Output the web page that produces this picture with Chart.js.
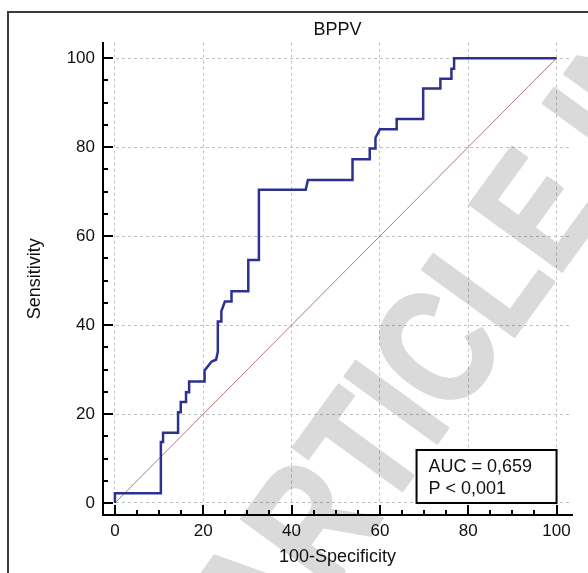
<!DOCTYPE html>
<html>
<head>
<meta charset="utf-8">
<script src="https://cdn.jsdelivr.net/npm/chart.js@4.4.1/dist/chart.umd.min.js"></script>
<style>
    body { margin: 0; background: #fff; width: 588px; height: 573px; overflow: hidden; position: relative; }
    #frame { position: absolute; left: 7px; top: 11px; width: 700px; height: 700px; border: 2px solid #3a3a3a; }
    #roc { position: absolute; left: 0; top: 0; }
</style>
</head>
<body>
<div id="frame"></div>
<canvas id="roc" width="588" height="573"></canvas>
<script>
// ROC curve vertices (100-Specificity, Sensitivity)
const specificity100 = [0, 0, 10.4, 10.4, 10.9, 10.9, 14.3, 14.3, 14.9, 14.9, 16.1, 16.1, 16.8, 16.8,
    20.3, 20.3, 21.9, 22.9, 23.3, 23.3, 24.1, 24.1, 24.9, 26.4, 26.4, 30.2, 30.2, 32.6, 32.6,
    43.2, 43.7, 53.8, 53.8, 57.7, 57.7, 59.0, 59.0, 60.0, 63.8, 63.8, 69.8, 69.8, 73.7, 73.7,
    76.2, 76.2, 76.8, 76.8, 100];
const sensitivity = [0, 2.2, 2.2, 13.7, 13.7, 15.8, 15.8, 20.4, 20.4, 22.7, 22.7, 24.9, 24.9, 27.3,
    27.3, 29.8, 31.8, 32.2, 34.0, 40.8, 40.8, 43.1, 45.3, 45.3, 47.6, 47.6, 54.6, 54.6, 70.4,
    70.4, 72.6, 72.6, 77.3, 77.3, 79.7, 79.7, 82.1, 84.0, 84.0, 86.3, 86.3, 93.2, 93.2, 95.4,
    95.4, 97.6, 97.6, 100, 100];
const diagonalX = [0, 100];
const diagonalY = [0, 100];
const tickValues = [0, 5, 10, 15, 20, 25, 30, 35, 40, 45, 50, 55, 60, 65, 70, 75, 80, 85, 90, 95, 100];
const statLines = ['AUC = 0,659', 'P < 0,001'];
const watermarkText = 'ARTICLE IN PRESS';

const font = '"Liberation Sans", Arial, sans-serif';
const gridColor = ctx => (ctx.tick && ctx.tick.value % 20 === 0) ? '#b9c1c9' : 'rgba(0,0,0,0)';

const inwardTicks = {
    id: 'inwardTicks',
    afterDraw(chart) {
        const { ctx, scales: { x, y } } = chart;
        ctx.save();
        ctx.strokeStyle = '#000';
        ctx.lineWidth = 2;
        tickValues.forEach(v => {
            const len = v % 20 === 0 ? 10 : 5;
            const px = Math.round(x.getPixelForValue(v));
            ctx.beginPath();
            ctx.moveTo(px, x.top);
            ctx.lineTo(px, x.top - len);
            ctx.stroke();
            const py = Math.round(y.getPixelForValue(v));
            ctx.beginPath();
            ctx.moveTo(y.right, py);
            ctx.lineTo(y.right + len, py);
            ctx.stroke();
        });

        // AUC box in the lower right corner of the plot
        const right = x.getPixelForValue(100);
        const bottom = y.getPixelForValue(0);
        const w = 140, h = 53;
        ctx.fillStyle = '#fff';
        ctx.fillRect(right - w, bottom - h, w, h);
        ctx.lineWidth = 2;
        ctx.strokeRect(right - w, bottom - h, w, h);
        ctx.fillStyle = '#111';
        ctx.font = '18px ' + font;
        ctx.textBaseline = 'alphabetic';
        ctx.fillText(statLines[0], right - w + 12, bottom - 31);
        ctx.fillText(statLines[1], right - w + 12, bottom - 9);
        ctx.restore();

        // watermark, drawn on its own layer then multiplied over the chart
        const layer = document.createElement('canvas');
        layer.width = chart.width;
        layer.height = chart.height;
        const wc = layer.getContext('2d');
        wc.translate(272, 670);
        wc.rotate(-54 * Math.PI / 180);
        wc.scale(0.8, 1);
        wc.fillStyle = '#dadada';
        wc.strokeStyle = '#dadada';
        wc.lineWidth = 3;
        wc.lineJoin = 'round';
        wc.font = 'bold 165px ' + font;
        wc.fillText(watermarkText, 0, 0);
        wc.strokeText(watermarkText, 0, 0);
        ctx.save();
        ctx.globalCompositeOperation = 'multiply';
        ctx.drawImage(layer, 0, 0);
        ctx.restore();
    }
};

new Chart(document.getElementById('roc'), {
    type: 'line',
    data: {
        datasets: [{
            data: specificity100.map((v, i) => ({ x: v, y: sensitivity[i] })),
            borderColor: '#2b3191',
            borderWidth: 2.5,
            pointRadius: 0,
            tension: 0,
            fill: false
        }, {
            data: diagonalX.map((v, i) => ({ x: v, y: diagonalY[i] })),
            borderColor: '#b07a7a',
            borderWidth: 1,
            pointRadius: 0,
            fill: false
        }]
    },
    options: {
        responsive: false,
        animation: false,
        devicePixelRatio: 1,
        layout: { padding: { top: 0, right: 16, bottom: 0, left: 0 } },
        plugins: {
            legend: { display: false },
            tooltip: { enabled: false },
            title: {
                display: true,
                text: 'BPPV',
                fullSize: false,
                color: '#111',
                font: { family: font, size: 18, weight: 'normal' },
                padding: { top: 19, bottom: 2 }
            }
        },
        scales: {
            x: {
                type: 'linear',
                min: -2.7,
                max: 103.5,
                afterBuildTicks: scale => { scale.ticks = tickValues.map(v => ({ value: v })); },
                afterFit: scale => { scale.height = 58; },
                ticks: {
                    autoSkip: false,
                    maxRotation: 0,
                    padding: 6,
                    color: '#111',
                    font: { family: font, size: 17 },
                    callback: v => v % 20 === 0 ? String(v) : ''
                },
                grid: { color: gridColor, lineWidth: 1, drawTicks: false },
                border: { display: true, color: '#000', width: 2, dash: [3, 3] },
                title: {
                    display: true,
                    text: '100-Specificity',
                    color: '#111',
                    font: { family: font, size: 18 },
                    padding: { top: 0, bottom: 5 }
                }
            },
            y: {
                type: 'linear',
                min: -2.7,
                max: 103.5,
                afterBuildTicks: scale => { scale.ticks = tickValues.map(v => ({ value: v })); },
                afterFit: scale => { scale.width = 103; },
                ticks: {
                    autoSkip: false,
                    padding: 8,
                    color: '#111',
                    font: { family: font, size: 17 },
                    callback: v => v % 20 === 0 ? String(v) : ''
                },
                grid: { color: gridColor, lineWidth: 1, drawTicks: false },
                border: { display: true, color: '#000', width: 2, dash: [3, 3] },
                title: {
                    display: true,
                    text: 'Sensitivity',
                    color: '#111',
                    font: { family: font, size: 18 },
                    padding: { top: 24, bottom: 0 }
                }
            }
        }
    },
    plugins: [inwardTicks]
});
</script>
</body>
</html>
